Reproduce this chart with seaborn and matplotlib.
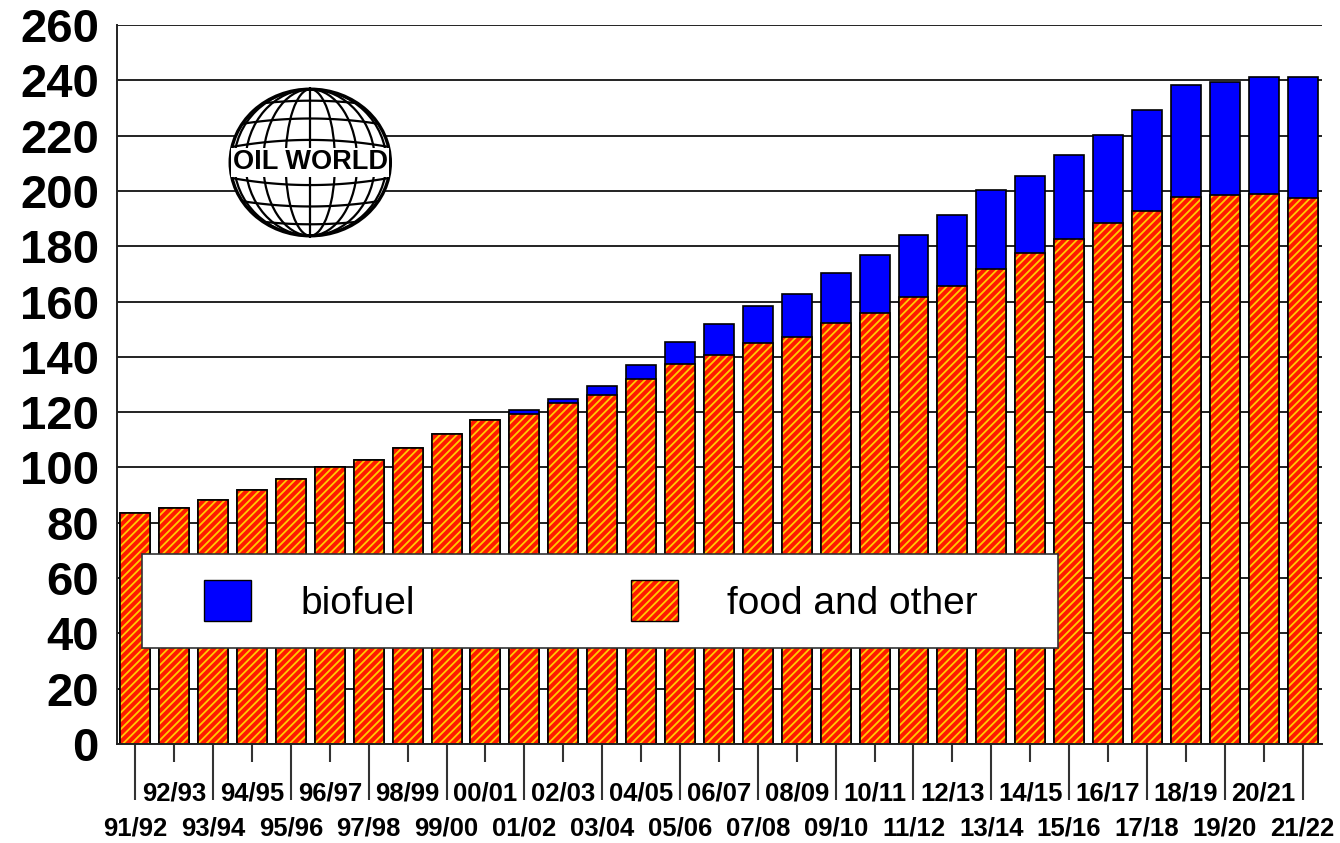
import numpy as np
import matplotlib
matplotlib.use("Agg")
import matplotlib.pyplot as plt
from matplotlib.patches import Rectangle, Ellipse, Patch
from matplotlib.legend_handler import HandlerTuple
import seaborn as sns

# data (million tonnes)
seasons = ["91/92", "92/93", "93/94", "94/95", "95/96", "96/97", "97/98", "98/99",
           "99/00", "00/01", "01/02", "02/03", "03/04", "04/05", "05/06", "06/07",
           "07/08", "08/09", "09/10", "10/11", "11/12", "12/13", "13/14", "14/15",
           "15/16", "16/17", "17/18", "18/19", "19/20", "20/21", "21/22"]
food_other = [83.5, 85.4, 88.2, 91.9, 95.8, 100.2, 102.7, 107.1, 112.0, 117.0,
              119.5, 123.4, 126.2, 131.9, 137.3, 140.8, 144.9, 147.3, 152.2, 156.0,
              161.7, 165.5, 171.8, 177.7, 182.8, 188.4, 192.9, 197.9, 198.4, 198.9,
              197.4]
biofuel = [0.0, 0.0, 0.0, 0.0, 0.0, 0.0, 0.0, 0.0, 0.0, 0.0,
           1.4, 1.4, 3.2, 5.2, 8.2, 11.0, 13.5, 15.4, 18.1, 20.9,
           22.4, 25.7, 28.6, 27.6, 30.3, 32.0, 36.5, 40.4, 40.9, 42.2,
           43.7]
totals = [f + b for f, b in zip(food_other, biofuel)]

yticks = list(range(0, 261, 20))

blue = "#0000ff"
red = "#ff1a00"
yellow = "#ffcc00"

sns.set_style("white")
plt.rcParams["font.family"] = ["Liberation Sans", "DejaVu Sans"]
plt.rcParams["hatch.linewidth"] = 1.3
plt.rcParams["text.color"] = "black"
plt.rcParams["xtick.color"] = "black"
plt.rcParams["ytick.color"] = "black"

fig = plt.figure(figsize=(13.4, 8.43), dpi=100)
ax = fig.add_axes([0.0873, 0.1174, 0.8993, 0.8529])

# biofuel on top = total bar, food bar drawn over it
sns.barplot(x=seasons, y=totals, color=blue, saturation=1, width=0.77,
            edgecolor="black", linewidth=1.2, ax=ax)
sns.barplot(x=seasons, y=food_other, color=red, saturation=1, width=0.77,
            hatch="////", edgecolor=yellow, linewidth=0, ax=ax)
sns.barplot(x=seasons, y=food_other, color="black", fill=False, width=0.77,
            linewidth=1.2, ax=ax)

ax.set_ylim(0, 260)
ax.set_xlim(-0.47, 30.5)
ax.set_yticks(yticks)
ax.set_yticklabels([str(v) for v in yticks], fontsize=34, fontweight="bold",
                   color="black")
ax.yaxis.grid(True, color="#222222", linewidth=1.4)
ax.set_axisbelow(True)
ax.tick_params(axis="y", length=0, pad=13)

# two rows of x labels: long ticks for even positions, short for odd
pos = np.arange(len(seasons))
ax.set_xticks(pos[::2])
ax.set_xticklabels(seasons[::2], fontsize=18.5, fontweight="bold", color="black")
ax.set_xticks(pos[1::2], minor=True)
ax.set_xticklabels(seasons[1::2], minor=True, fontsize=18.5, fontweight="bold",
                   color="black")
ax.tick_params(axis="x", which="major", length=40, width=1.5, color="#333333",
               pad=12, bottom=True, direction="out")
ax.tick_params(axis="x", which="minor", length=13, width=1.5, color="#333333",
               pad=14, bottom=True, direction="out")
ax.set_xlabel("")
ax.set_ylabel("")

for s in ["top", "right"]:
    ax.spines[s].set_visible(False)
ax.spines["left"].set_color("#222222")
ax.spines["left"].set_linewidth(1.4)
ax.spines["bottom"].set_color("#222222")
ax.spines["bottom"].set_linewidth(1.4)

# legend box
ax.add_patch(Rectangle((0.0207, 0.1335), 0.760, 0.1307, transform=ax.transAxes,
                       facecolor="white", edgecolor="#333333", linewidth=1.2,
                       zorder=5))
h_bio = Patch(facecolor=blue, edgecolor="black", linewidth=1.0)
h_food = (Patch(facecolor=red, edgecolor=yellow, hatch="////", linewidth=0),
          Patch(facecolor="none", edgecolor="black", linewidth=1.0))
leg = ax.legend([h_bio, h_food], ["biofuel", "food and other"], ncol=2,
                loc="center left", bbox_to_anchor=(0.0564, 0.1989),
                frameon=False, fontsize=28, borderpad=0, handlelength=1.21,
                handleheight=1.23, handletextpad=1.26, columnspacing=5.55,
                handler_map={tuple: HandlerTuple(ndivide=1, pad=0)})
leg.set_zorder(6)
for t in leg.get_texts():
    t.set_color("black")

# OIL WORLD logo
lax = fig.add_axes([0.170, 0.7177, 0.1231, 0.1791])
lax.set_xlim(-1.03, 1.03)
lax.set_ylim(-1.03, 1.03)
lax.axis("off")
globe = Ellipse((0, 0), 2, 2, facecolor="white", edgecolor="black", linewidth=2.4)
lax.add_patch(globe)
lax.axvline(0, color="black", linewidth=1.6)
for lon in [18, 36, 54, 72]:
    w = 2 * np.sin(np.radians(lon))
    e = Ellipse((0, 0), w, 2, facecolor="none", edgecolor="black", linewidth=1.6)
    lax.add_patch(e)
xs = np.linspace(-1, 1, 100)
for lat in [12, 30, 48, 66]:
    y0 = np.sin(np.radians(lat))
    for sgn in [1, -1]:
        line, = lax.plot(xs, sgn * (y0 + 0.1 * (1 - xs ** 2)), color="black",
                         linewidth=1.6)
        line.set_clip_path(globe)
lax.text(0, 0, "OIL WORLD", ha="center", va="center", fontsize=19.5,
         fontweight="heavy", color="black",
         bbox=dict(facecolor="white", edgecolor="none", pad=1.0))

fig.savefig("out.png", dpi=100)
